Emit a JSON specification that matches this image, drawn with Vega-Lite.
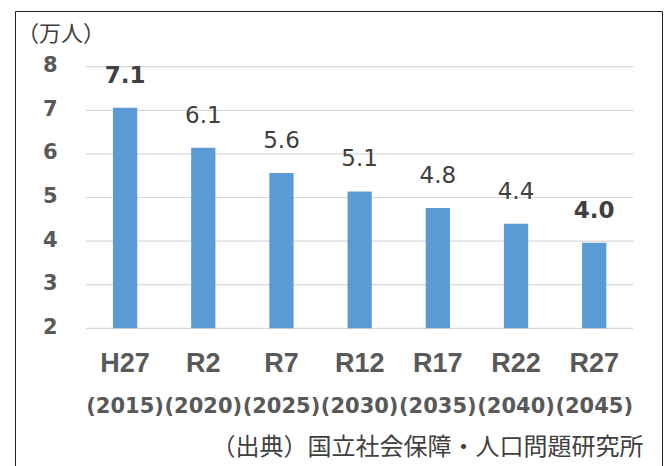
{
  "$schema": "https://vega.github.io/schema/vega-lite/v6.json",
  "width": 647,
  "height": 460,
  "autosize": {"type": "none"},
  "padding": {"left": 15, "top": 11, "right": 4, "bottom": 0},
  "background": "white",
  "config": {
    "view": {"stroke": "#222222", "strokeWidth": 1},
    "font": "DejaVu Sans"
  },
  "title": {
    "text": "（万人）",
    "anchor": "start",
    "frame": "group",
    "font": "Noto Sans CJK JP",
    "fontSize": 22,
    "fontWeight": "normal",
    "color": "#404040",
    "baseline": "alphabetic",
    "offset": 0,
    "dy": 52,
    "dx": 2
  },
  "data": {
    "values": [
      {"period": "H27 (2015)", "value": 7.06},
      {"period": "R2 (2020)", "value": 6.14},
      {"period": "R7 (2025)", "value": 5.56},
      {"period": "R12 (2030)", "value": 5.14},
      {"period": "R17 (2035)", "value": 4.76},
      {"period": "R22 (2040)", "value": 4.4},
      {"period": "R27 (2045)", "value": 3.96}
    ]
  },
  "encoding": {
    "x": {
      "field": "period",
      "type": "nominal",
      "sort": null,
      "scale": {
        "domain": ["H27 (2015)", "R2 (2020)", "R7 (2025)", "R12 (2030)", "R17 (2035)", "R22 (2040)", "R27 (2045)"],
        "range": [71, 618.3],
        "paddingInner": 0,
        "paddingOuter": 0
      },
      "axis": null
    },
    "y": {
      "field": "value",
      "type": "quantitative",
      "scale": {"domain": [-1.273, 9.2775], "nice": false, "zero": false},
      "axis": {
        "orient": "left",
        "offset": -42,
        "values": [2, 3, 4, 5, 6, 7, 8],
        "domain": false,
        "ticks": false,
        "tickSize": 0,
        "grid": false,
        "title": null,
        "labelPadding": 0,
        "labelFont": "DejaVu Sans",
        "labelFontWeight": "bold",
        "labelFontSize": 21,
        "labelColor": "#595959",
        "labelBaseline": "middle",
        "labelOffset": -1
      }
    }
  },
  "layer": [
    {
      "data": {"values": [{"value": 2}, {"value": 3}, {"value": 4}, {"value": 5}, {"value": 6}, {"value": 7}, {"value": 8}]},
      "mark": {"type": "rule", "color": "#d9d9d9", "strokeWidth": 1.2},
      "encoding": {
        "x": {"datum": "H27 (2015)", "bandPosition": 0, "axis": null},
        "x2": {"datum": "R27 (2045)", "bandPosition": 1}
      }
    },
    {
      "mark": {"type": "bar", "color": "#5B9BD5", "width": {"band": 0.31}},
      "encoding": {
        "y2": {"datum": 2},
        "x": {
          "field": "period",
          "type": "nominal",
          "sort": null,
          "axis": {
            "orient": "bottom",
            "offset": -142.7,
            "domain": false,
            "ticks": false,
            "tickSize": 0,
            "grid": false,
            "title": null,
            "labelAngle": 0,
            "labelExpr": "split(datum.value, ' ')[0]",
            "labelFont": "Liberation Sans",
            "labelFontWeight": "bold",
            "labelFontSize": 27,
            "labelColor": "#595959",
            "labelBaseline": "alphabetic",
            "labelPadding": 43.4
          }
        }
      }
    },
    {
      "transform": [{"filter": "datum.period != 'H27 (2015)' && datum.period != 'R27 (2045)'"}],
      "mark": {"type": "text", "font": "DejaVu Sans", "fontSize": 23, "color": "#404040", "baseline": "alphabetic", "dy": -25},
      "encoding": {
        "text": {"field": "value", "type": "quantitative", "format": ".1f"}
      }
    },
    {
      "transform": [{"filter": "datum.period == 'H27 (2015)' || datum.period == 'R27 (2045)'"}],
      "mark": {"type": "text", "font": "DejaVu Sans", "fontSize": 23, "fontWeight": "bold", "color": "#404040", "baseline": "alphabetic", "dy": -25},
      "encoding": {
        "text": {"field": "value", "type": "quantitative", "format": ".1f"},
        "x": {
          "field": "period",
          "type": "nominal",
          "sort": null,
          "axis": {
            "orient": "bottom",
            "offset": -142.7,
            "domain": false,
            "ticks": false,
            "tickSize": 0,
            "grid": false,
            "labelAngle": 0,
            "labelExpr": "split(datum.value, ' ')[1]",
            "labelFont": "DejaVu Sans",
            "labelFontWeight": "bold",
            "labelFontSize": 21,
            "labelColor": "#595959",
            "labelBaseline": "alphabetic",
            "labelPadding": 84.4,
            "title": "（出典）国立社会保障・人口問題研究所",
            "titleFont": "Noto Sans CJK JP",
            "titleFontSize": 24,
            "titleFontWeight": "normal",
            "titleColor": "#404040",
            "titleAlign": "right",
            "titleAnchor": "end",
            "titleBaseline": "alphabetic",
            "titleX": 628,
            "titleY": 126
          }
        }
      }
    }
  ],
  "resolve": {"axis": {"x": "independent"}}
}
